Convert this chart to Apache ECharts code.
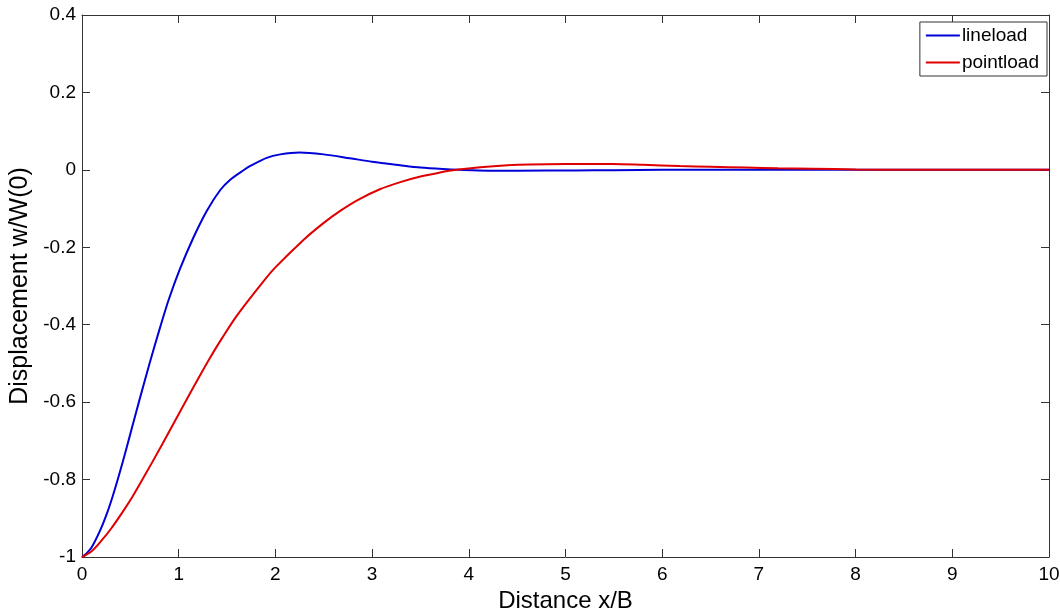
<!DOCTYPE html>
<html>
<head>
<meta charset="utf-8">
<script src="https://cdn.jsdelivr.net/npm/echarts@6/dist/echarts.min.js"></script>
<style>
html,body{margin:0;padding:0;background:#fff;}
#chart{width:1060px;height:613px;}
</style>
</head>
<body>
<div id="chart"></div>
<script>
var seriesNames = ['lineload', 'pointload'];
var xTickValues = [0, 1, 2, 3, 4, 5, 6, 7, 8, 9, 10];
var yTickValues = [-1, -0.8, -0.6, -0.4, -0.2, 0, 0.2, 0.4];

var lineloadX = [0, 0.05, 0.10, 0.19, 0.26, 0.32, 0.38, 0.46, 0.52, 0.60, 0.70, 0.81, 0.90, 1.01, 1.15, 1.29, 1.43, 1.53, 1.67, 1.74, 1.91, 2.05, 2.25, 2.5, 2.77, 3.0, 3.29, 3.5, 3.73, 3.9, 4.2, 4.5, 5.1, 5.5, 6, 7, 8, 10];
var lineloadY = [-1, -0.99, -0.975, -0.93, -0.886, -0.841, -0.791, -0.719, -0.663, -0.589, -0.499, -0.405, -0.333, -0.258, -0.176, -0.106, -0.052, -0.026, -0.001, 0.010, 0.031, 0.040, 0.045, 0.040, 0.030, 0.021, 0.012, 0.006, 0.002, 0.0, -0.002, -0.002, -0.0015, -0.001, 0, 0.0005, 0, 0];

var pointloadX = [0, 0.1, 0.207, 0.3, 0.414, 0.52, 0.62, 0.83, 1.03, 1.24, 1.32, 1.45, 1.60, 1.87, 2.0, 2.29, 2.5, 2.67, 2.85, 3.08, 3.3, 3.5, 3.7, 3.87, 4.12, 4.4, 4.63, 5.0, 5.49, 5.8, 6.18, 6.5, 6.87, 7.2, 7.56, 8, 8.5, 10];
var pointloadY = [-1, -0.985, -0.956, -0.927, -0.886, -0.845, -0.802, -0.709, -0.617, -0.522, -0.487, -0.434, -0.377, -0.290, -0.252, -0.181, -0.137, -0.106, -0.078, -0.050, -0.031, -0.017, -0.007, 0.0, 0.007, 0.012, 0.014, 0.015, 0.015, 0.013, 0.010, 0.008, 0.006, 0.004, 0.003, 0.001, 0, 0];

function pairs(xs, ys) { return xs.map(function (x, i) { return [x, ys[i]]; }); }

var chart = echarts.init(document.getElementById('chart'), null, {renderer: 'canvas'});
var fontFam = '"Liberation Sans", Arial, sans-serif';
var axisCol = '#333333';

function xAx(pos, labels) {
  return {
    type: 'value', position: pos, min: 0, max: 10, interval: 1,
    name: labels ? 'Distance x/B' : '', nameLocation: 'middle', nameGap: 32,
    nameTextStyle: {fontFamily: fontFam, fontSize: 24, color: '#000'},
    axisLine: {show: true, onZero: false, lineStyle: {color: axisCol, width: 1}},
    axisTick: {show: true, inside: true, length: 8, lineStyle: {color: axisCol}},
    axisLabel: {show: labels, fontFamily: fontFam, fontSize: 19, color: '#000', margin: 8},
    splitLine: {show: false}
  };
}
function yAx(pos, labels) {
  return {
    type: 'value', position: pos, min: -1, max: 0.4, interval: 0.2,
    name: labels ? 'Displacement w/W(0)' : '', nameLocation: 'middle', nameGap: 46,
    nameTextStyle: {fontFamily: fontFam, fontSize: 25, color: '#000'},
    axisLine: {show: true, onZero: false, lineStyle: {color: axisCol, width: 1}},
    axisTick: {show: true, inside: true, length: 8, lineStyle: {color: axisCol}},
    axisLabel: {show: labels, fontFamily: fontFam, fontSize: 19, color: '#000', margin: 6,
      formatter: function (v) { return String(Math.round(v * 10) / 10); }},
    splitLine: {show: false}
  };
}

chart.setOption({
  animation: false,
  backgroundColor: '#ffffff',
  grid: {left: 82, right: 11, top: 15, bottom: 56, containLabel: false, outerBoundsMode: 'none'},
  legend: {
    orient: 'vertical', right: 13, top: 22,
    data: seriesNames,
    icon: 'rect', itemWidth: 34, itemHeight: 2, itemGap: 8,
    backgroundColor: '#fff', borderColor: axisCol, borderWidth: 1,
    padding: [4, 8, 4, 6],
    textStyle: {fontFamily: fontFam, fontSize: 19, color: '#000', padding: [0, 0, 0, -3]}
  },
  xAxis: [xAx('bottom', true), xAx('top', false)],
  yAxis: [yAx('left', true), yAx('right', false)],
  series: [
    {name: seriesNames[0], type: 'line', xAxisIndex: 0, yAxisIndex: 0, showSymbol: false, smooth: 0.3,
     lineStyle: {color: '#0000d8', width: 2}, itemStyle: {color: '#0000d8'},
     data: pairs(lineloadX, lineloadY)},
    {name: seriesNames[1], type: 'line', xAxisIndex: 0, yAxisIndex: 0, showSymbol: false, smooth: 0.3,
     lineStyle: {color: '#e00000', width: 2}, itemStyle: {color: '#e00000'},
     data: pairs(pointloadX, pointloadY)}
  ]
});
</script>
</body>
</html>
